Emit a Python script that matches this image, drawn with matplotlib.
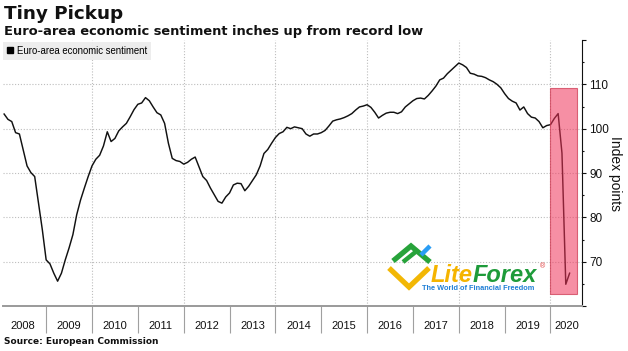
import matplotlib
matplotlib.use("Agg")
import matplotlib.pyplot as plt
import numpy as np
from matplotlib.patches import Rectangle
from matplotlib.lines import Line2D
from matplotlib.ticker import FixedLocator, FixedFormatter, NullFormatter, FuncFormatter

plt.rcParams['font.family'] = ['Liberation Sans', 'DejaVu Sans']

# ---------------- data (monthly, Jan 2008 - May 2020) ----------------
esi_2008 = [103.3, 102.1, 101.6, 99.1, 98.8, 95.2, 91.6, 90.1, 89.2, 83.2, 77.2, 70.4]
esi_2009 = [69.5, 67.4, 65.6, 67.4, 70.4, 73.1, 76.1, 80.6, 83.9, 86.6, 89.2, 91.6]
esi_2010 = [93.1, 94.0, 96.1, 99.3, 97.1, 97.8, 99.5, 100.4, 101.2, 102.7, 104.3, 105.5]
esi_2011 = [105.8, 107.0, 106.3, 104.9, 103.6, 103.1, 101.2, 96.7, 93.3, 92.8, 92.6, 92.0]
esi_2012 = [92.4, 93.1, 93.6, 91.4, 89.2, 88.3, 86.6, 85.1, 83.6, 83.2, 84.6, 85.5]
esi_2013 = [87.3, 87.7, 87.6, 86.0, 87.0, 88.3, 89.6, 91.6, 94.4, 95.3, 96.7, 98.0]
esi_2014 = [98.9, 99.3, 100.3, 100.0, 100.4, 100.2, 100.0, 98.8, 98.3, 98.8, 98.8, 99.1]
esi_2015 = [99.6, 100.6, 101.7, 102.0, 102.2, 102.5, 102.9, 103.4, 104.2, 104.9, 105.1, 105.4]
esi_2016 = [104.8, 103.7, 102.4, 103.0, 103.5, 103.7, 103.7, 103.4, 103.8, 104.9, 105.6, 106.3]
esi_2017 = [106.8, 106.9, 106.7, 107.5, 108.5, 109.6, 111.0, 111.4, 112.4, 113.2, 114.0, 114.8]
esi_2018 = [114.4, 113.8, 112.5, 112.3, 111.9, 111.8, 111.5, 111.0, 110.6, 110.0, 109.2, 107.9]
esi_2019 = [106.8, 106.2, 105.8, 104.2, 104.9, 103.4, 102.6, 102.4, 101.6, 100.2, 100.7, 100.9]
esi_2020 = [102.3, 103.4, 94.5, 64.9, 67.4]

series_label = "Euro-area economic sentiment"
year_labels = [str(y) for y in range(2008, 2021)]
y_ticks = [60, 70, 80, 90, 100, 110, 120]
y_labeled = [70, 80, 90, 100, 110]
grid_years = [2010, 2012, 2014, 2016, 2018, 2020]

# highlighted region (pink box)
hl_x0, hl_x1 = 2020.0, 2020.58
hl_y0, hl_y1 = 62.8, 109.2

values = np.array(esi_2008 + esi_2009 + esi_2010 + esi_2011 + esi_2012 + esi_2013 +
                  esi_2014 + esi_2015 + esi_2016 + esi_2017 + esi_2018 + esi_2019 + esi_2020)
dates = 2008 + (np.arange(len(values)) + 1) / 12.0

W, H = 628, 351
fig = plt.figure(figsize=(W / 100, H / 100), dpi=100)
ax = fig.add_axes([3 / W, 45 / H, 579.3 / W, 266 / H])

x_lo, x_hi = 2008.0589, 2020.6936
ax.set_xlim(x_lo, x_hi)
ax.set_ylim(60, 120)

# grid
grid_kw = dict(color='#bdbdbd', lw=0.8, linestyle=(0, (1, 1.6)), zorder=1)
for gy in y_labeled:
    ax.axhline(gy, **grid_kw)
for gx in grid_years:
    ax.axvline(gx, **grid_kw)

# line
ax.plot(dates, values, color='#111111', lw=1.05, zorder=3)

# highlight box
ax.add_patch(Rectangle((hl_x0, hl_y0), hl_x1 - hl_x0, hl_y1 - hl_y0,
                       facecolor=(0.94, 0.2, 0.35, 0.55), edgecolor=(0.8, 0.2, 0.3, 0.7),
                       lw=0.8, zorder=4))

# x axis: separators at year starts, labels centred in each year
ax.xaxis.set_major_locator(FixedLocator(list(range(2009, 2021))))
ax.xaxis.set_major_formatter(NullFormatter())
label_pos = [y + 0.5 for y in range(2008, 2020)] + [(2020 + x_hi) / 2]
ax.xaxis.set_minor_locator(FixedLocator(label_pos))
ax.xaxis.set_minor_formatter(FixedFormatter(year_labels))
ax.tick_params(axis='x', which='major', length=19.4, width=0.8, color='#a0a0a0', direction='out')
ax.tick_params(axis='x', which='minor', length=0, pad=10.5, labelsize=8, labelcolor='#111111')

# y axis on right
ax.yaxis.tick_right()
ax.yaxis.set_major_locator(FixedLocator(y_ticks))
ax.yaxis.set_major_formatter(FuncFormatter(lambda v, p: f"{int(v)}" if int(v) in y_labeled else ""))
ax.yaxis.set_minor_locator(FixedLocator([v + 5 for v in y_ticks[:-1]]))
ax.tick_params(axis='y', which='major', length=3, width=0.8, pad=2, labelsize=8.5,
               right=True, left=False, color='#111111', labelcolor='#111111')
ax.tick_params(axis='y', which='minor', length=1.6, width=0.8, right=True, left=False, color='#111111')
ax.set_ylabel("Index points", rotation=270, fontsize=10, color='#111111')
ax.yaxis.label.set_va('center')
ax.yaxis.label.set_ha('center')
ax.yaxis.set_label_coords((615 - 3) / 579.3, 0.5)

for s in ['left', 'top']:
    ax.spines[s].set_visible(False)
ax.spines['right'].set_color('#111111')
ax.spines['right'].set_linewidth(0.8)
ax.spines['bottom'].set_color('#9a9a9a')
ax.spines['bottom'].set_linewidth(1.4)

# legend
proxy = Line2D([], [], marker='s', color='black', linestyle='none', markersize=4.5)
leg = ax.legend([proxy], [series_label], loc='upper left', bbox_to_anchor=(0, 1 - 2 / 266),
                borderaxespad=0, fontsize=6.9, frameon=True, fancybox=False,
                handlelength=0.7, handletextpad=0.4, borderpad=0.4)
leg.get_frame().set_facecolor('#ececec')
leg.get_frame().set_edgecolor('none')
leg.get_frame().set_alpha(0.92)

# titles
bold_family = ['DejaVu Sans']
fig.text(4 / W, 1 - 19 / H, "Tiny Pickup", fontsize=13.2, fontweight='bold', va='baseline',
         color='#111111', family=bold_family)
fig.text(4 / W, 1 - 35.5 / H, "Euro-area economic sentiment inches up from record low",
         fontsize=9.4, fontweight='bold', va='baseline', color='#111111', family=bold_family)
fig.text(4 / W, 1 - 341 / H, "Source: European Commission", fontsize=6.5, fontweight='bold',
         va='center', color='#111111', family=bold_family)

# watermark logo
def P(x, y):
    return x / W, 1 - y / H

def seg(pts, color, lw):
    xs = [P(*p)[0] for p in pts]
    ys = [P(*p)[1] for p in pts]
    fig.add_artist(Line2D(xs, ys, color=color, lw=lw, transform=fig.transFigure,
                          solid_capstyle='butt', solid_joinstyle='miter', zorder=6))

seg([(389, 268), (409, 287), (429, 268)], '#f2b705', 3.8)
seg([(393, 261), (411, 246), (430, 262)], '#27a33a', 3.8)
seg([(403, 262), (418, 250)], '#27a33a', 3.2)
seg([(421, 255), (430, 246)], '#2a9df4', 3.2)

t_lite = fig.text(*P(431, 282), "Lite", fontsize=17, fontweight='bold', fontstyle='italic',
                  color='#f5b400', va='baseline', ha='left', zorder=6)
fig.canvas.draw()
bb = t_lite.get_window_extent()
t_forex = fig.text(bb.x1 / W, 1 - 282 / H, "Forex", fontsize=17, fontweight='bold', fontstyle='italic',
                   color='#1e9b3a', va='baseline', ha='left', zorder=6)
fig.text(*P(542, 267), "®", fontsize=5, color='#e03030', ha='center', va='center', zorder=6)
fig.text(*P(478, 289), "The World of Financial Freedom", fontsize=5.3, fontweight='bold',
         color='#1f7fd6', ha='center', va='center', zorder=6)

fig.savefig("out.png", dpi=100)
